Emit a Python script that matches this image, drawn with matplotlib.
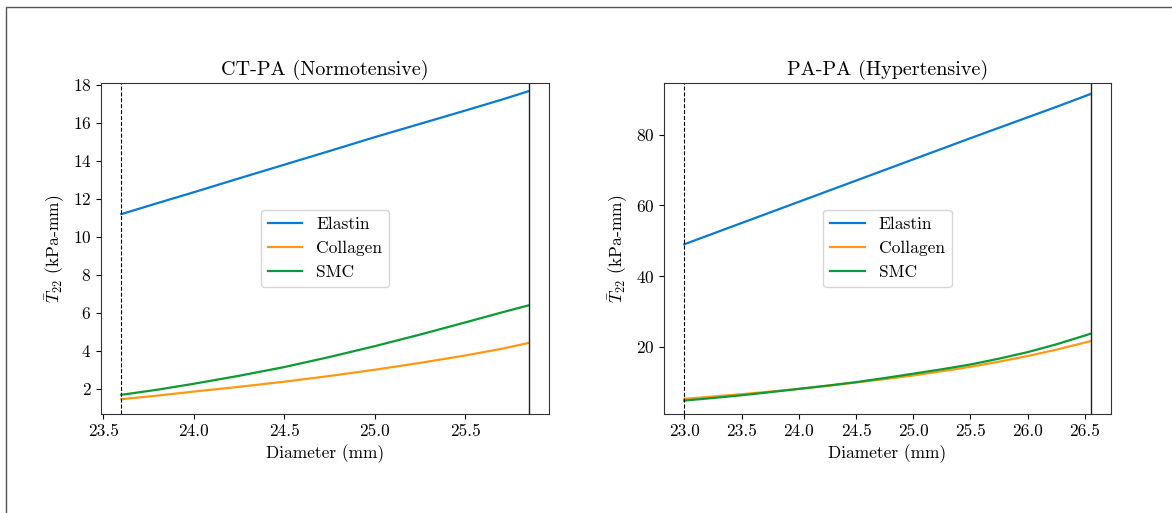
import matplotlib
matplotlib.use("Agg")
import matplotlib.pyplot as plt
from matplotlib.patches import Rectangle

plt.rcParams['font.family'] = 'serif'
plt.rcParams['font.serif'] = ['cmr10']
plt.rcParams['mathtext.fontset'] = 'cm'
plt.rcParams['axes.formatter.use_mathtext'] = True

# ---- data ----
series_names = ["Elastin", "Collagen", "SMC"]
colors = ["#0a7ad0", "#ff9812", "#0e9a32"]

ct_diam = [23.6, 23.8, 24.0, 24.25, 24.5, 24.75, 25.0, 25.25, 25.5, 25.7, 25.85]
ct_elastin = [11.2, 11.78, 12.35, 13.08, 13.8, 14.52, 15.25, 15.95, 16.65, 17.22, 17.67]
ct_collagen = [1.46, 1.65, 1.86, 2.11, 2.38, 2.68, 3.01, 3.37, 3.76, 4.11, 4.42]
ct_smc = [1.69, 1.96, 2.27, 2.69, 3.15, 3.68, 4.25, 4.86, 5.50, 6.02, 6.40]

pa_diam = [23.0, 23.25, 23.5, 23.75, 24.0, 24.25, 24.5, 24.75, 25.0, 25.25, 25.5,
           25.75, 26.0, 26.25, 26.55]
pa_elastin = [49.0, 52.0, 55.0, 58.0, 61.0, 64.0, 67.0, 70.0, 73.0, 76.0, 79.0,
              81.95, 84.9, 87.85, 91.5]
pa_collagen = [5.3, 5.93, 6.6, 7.33, 8.1, 8.97, 9.9, 10.87, 11.9, 13.1, 14.35,
               15.8, 17.4, 19.2, 21.6]
pa_smc = [4.8, 5.52, 6.3, 7.18, 8.1, 9.02, 10.0, 11.17, 12.4, 13.65, 15.0,
          16.65, 18.5, 20.7, 23.7]

titles = ["CT-PA (Normotensive)", "PA-PA (Hypertensive)"]
xlabel = "Diameter (mm)"
ylabel = r"$\bar{T}_{22}$ (kPa-mm)"
ct_xticks = [23.5, 24.0, 24.5, 25.0, 25.5]
ct_yticks = [2, 4, 6, 8, 10, 12, 14, 16, 18]
pa_xticks = [23.0, 23.5, 24.0, 24.5, 25.0, 25.5, 26.0, 26.5]
pa_yticks = [20, 40, 60, 80]

W, H = 1172, 513
fig = plt.figure(figsize=(W / 100, H / 100), dpi=100)

# figure frame (left/top edges visible)
fig.patches.append(Rectangle((6 / W, -0.1), 1.2, 1 - 7 / H + 0.1, transform=fig.transFigure,
                             fill=False, edgecolor="#555555", linewidth=1.0))

ax1 = fig.add_axes([101 / W, 1 - 414 / H, (549 - 101) / W, (414 - 83) / H])
ax2 = fig.add_axes([664 / W, 1 - 414 / H, (1111 - 664) / W, (414 - 83) / H])

panels = [
    (ax1, ct_diam, [ct_elastin, ct_collagen, ct_smc], ct_xticks, ct_yticks, (0.68, 18.1)),
    (ax2, pa_diam, [pa_elastin, pa_collagen, pa_smc], pa_xticks, pa_yticks, (1.0, 94.6)),
]

fs = 12.5
for i, (ax, x, ys, xt, yt, ylim) in enumerate(panels):
    for name, y, c in zip(series_names, ys, colors):
        ax.plot(x, y, color=c, lw=1.6, label=name)
    ax.axvline(x[0], color="black", ls="--", lw=0.8)
    ax.axvline(x[-1], color="#222222", ls="-", lw=1.0)
    ax.set_xticks(xt)
    ax.set_xticklabels([f"{v:.1f}" for v in xt])
    ax.set_yticks(yt)
    ax.set_ylim(*ylim)
    ax.set_title(titles[i], fontsize=14.5)
    ax.set_xlabel(xlabel, fontsize=fs)
    ax.set_ylabel(ylabel, fontsize=fs)
    ax.tick_params(labelsize=fs)
    for s in ax.spines.values():
        s.set_color("#333333")
    ax.legend(loc="center", fontsize=fs)

ax1.set_xlim(23.4875, 25.9625)
ax2.set_xlim(22.8225, 26.7275)

fig.savefig("out.png", dpi=100)
